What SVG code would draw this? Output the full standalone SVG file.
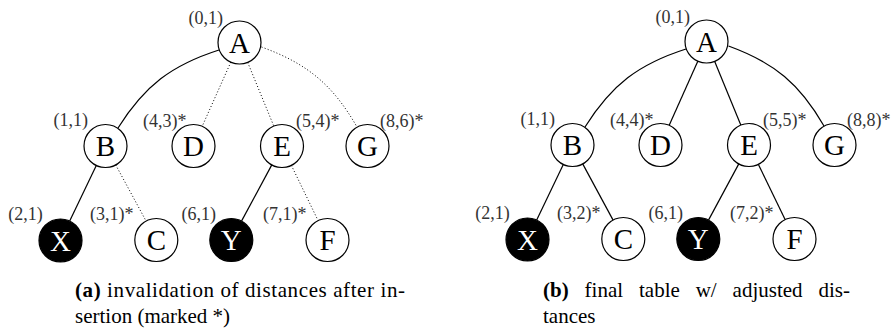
<svg xmlns="http://www.w3.org/2000/svg" width="893" height="334" viewBox="0 0 893 334">
  <style>
    .node circle { fill: #ffffff; stroke: #000000; stroke-width: 1.2; }
    .node .n { font-family: "Liberation Serif", "DejaVu Serif", serif; font-size: 29px; text-anchor: middle; fill: #000000; }
    .node.dark circle { fill: #000000; }
    .node.dark .n { fill: #ffffff; }
    .node .lbl { font-family: "Liberation Serif", "DejaVu Serif", serif; font-size: 18px; fill: #333333; }
    .node .lbl.r { text-anchor: end; }
    .edge { fill: none; stroke: #000000; stroke-width: 1.2; }
    .edge.dotted { stroke-width: 1; stroke-dasharray: 1 2.2; }
    .cap { font-family: "Liberation Serif", "DejaVu Serif", serif; font-size: 21px; fill: #000000; }
    .cap .b { font-weight: bold; }
  </style>

  <!-- Panel (a): distances invalidated after insertion -->
  <g id="panel-a">
    <g id="edges-a">
      <path class="edge" d="M219,50 C171.4,65.2 144.7,85.7 118,128"/>
      <path class="edge dotted" d="M230.8,62.2 L202.2,126.3"/>
      <path class="edge dotted" d="M247.7,62.4 L273.8,126.1"/>
      <path class="edge dotted" d="M261.5,47 C307.6,63.7 332.8,84.9 357,127"/>
      <path class="edge" d="M96.3,165.4 L69.7,221.1"/>
      <path class="edge dotted" d="M115.7,164.9 L146.1,221.1"/>
      <path class="edge" d="M271.8,164.9 L241.5,221.1"/>
      <path class="edge dotted" d="M291.4,165.4 L318.1,220.6"/>
    </g>
    <g id="a-A" class="node"><circle cx="239.5" cy="42.5" r="21.5"/><text class="n" x="239.5" y="52.5">A</text><text class="lbl r" x="223" y="23.5">(0,1)</text></g>
    <g id="a-B" class="node"><circle cx="105.5" cy="146" r="21.5"/><text class="n" x="105.5" y="156">B</text><text class="lbl r" x="88" y="125.5">(1,1)</text></g>
    <g id="a-D" class="node"><circle cx="193.5" cy="146" r="21.5"/><text class="n" x="193.5" y="156">D</text><text class="lbl" x="143" y="127">(4,3)*</text></g>
    <g id="a-E" class="node"><circle cx="282" cy="146" r="21.5"/><text class="n" x="282" y="156">E</text><text class="lbl" x="296" y="127">(5,4)*</text></g>
    <g id="a-G" class="node"><circle cx="367.5" cy="146" r="21.5"/><text class="n" x="367.5" y="156">G</text><text class="lbl" x="380" y="127">(8,6)*</text></g>
    <g id="a-X" class="node dark"><circle cx="60.5" cy="240.5" r="21.5"/><text class="n" x="60.5" y="250.5">X</text><text class="lbl r" x="42.7" y="220">(2,1)</text></g>
    <g id="a-C" class="node"><circle cx="156.3" cy="240" r="21.5"/><text class="n" x="156.3" y="250">C</text><text class="lbl" x="90" y="220">(3,1)*</text></g>
    <g id="a-Y" class="node dark"><circle cx="231.3" cy="240" r="21.5"/><text class="n" x="231.3" y="250">Y</text><text class="lbl r" x="216" y="220">(6,1)</text></g>
    <g id="a-F" class="node"><circle cx="327.5" cy="240" r="21.5"/><text class="n" x="327.5" y="250">F</text><text class="lbl" x="263" y="220">(7,1)*</text></g>
  </g>
  <g id="caption-a" class="cap">
    <text x="75" y="297" textLength="330" lengthAdjust="spacing"><tspan class="b">(a)</tspan> invalidation of distances after in-</text>
    <text x="75" y="323">sertion (marked *)</text>
  </g>

  <!-- Panel (b): final table with adjusted distances -->
  <g id="panel-b" transform="translate(467,-1)">
    <g id="edges-b">
      <path class="edge" d="M219,50 C171.4,65.2 144.7,85.7 118,128"/>
      <path class="edge" d="M230.8,62.2 L202.2,126.3"/>
      <path class="edge" d="M247.7,62.4 L273.8,126.1"/>
      <path class="edge" d="M261.5,47 C307.6,63.7 332.8,84.9 357,127"/>
      <path class="edge" d="M96.3,165.4 L69.7,221.1"/>
      <path class="edge" d="M115.7,164.9 L146.1,221.1"/>
      <path class="edge" d="M271.8,164.9 L241.5,221.1"/>
      <path class="edge" d="M291.4,165.4 L318.1,220.6"/>
    </g>
    <g id="b-A" class="node"><circle cx="239.5" cy="42.5" r="21.5"/><text class="n" x="239.5" y="52.5">A</text><text class="lbl r" x="223" y="23.5">(0,1)</text></g>
    <g id="b-B" class="node"><circle cx="105.5" cy="146" r="21.5"/><text class="n" x="105.5" y="156">B</text><text class="lbl r" x="88" y="125.5">(1,1)</text></g>
    <g id="b-D" class="node"><circle cx="193.5" cy="146" r="21.5"/><text class="n" x="193.5" y="156">D</text><text class="lbl" x="143" y="127">(4,4)*</text></g>
    <g id="b-E" class="node"><circle cx="282" cy="146" r="21.5"/><text class="n" x="282" y="156">E</text><text class="lbl" x="296" y="127">(5,5)*</text></g>
    <g id="b-G" class="node"><circle cx="367.5" cy="146" r="21.5"/><text class="n" x="367.5" y="156">G</text><text class="lbl" x="380" y="127">(8,8)*</text></g>
    <g id="b-X" class="node dark"><circle cx="60.5" cy="240.5" r="21.5"/><text class="n" x="60.5" y="250.5">X</text><text class="lbl r" x="42.7" y="220">(2,1)</text></g>
    <g id="b-C" class="node"><circle cx="156.3" cy="240" r="21.5"/><text class="n" x="156.3" y="250">C</text><text class="lbl" x="90" y="220">(3,2)*</text></g>
    <g id="b-Y" class="node dark"><circle cx="231.3" cy="240" r="21.5"/><text class="n" x="231.3" y="250">Y</text><text class="lbl r" x="216" y="220">(6,1)</text></g>
    <g id="b-F" class="node"><circle cx="327.5" cy="240" r="21.5"/><text class="n" x="327.5" y="250">F</text><text class="lbl" x="263" y="220">(7,2)*</text></g>
  </g>
  <g id="caption-b" class="cap">
    <text y="297"><tspan class="b" x="543">(b)</tspan><tspan x="584.6">final</tspan><tspan x="639">table</tspan><tspan x="695.7">w/</tspan><tspan x="732.6">adjusted</tspan><tspan x="818.5">dis-</tspan></text>
    <text x="543" y="323">tances</text>
  </g>
</svg>
